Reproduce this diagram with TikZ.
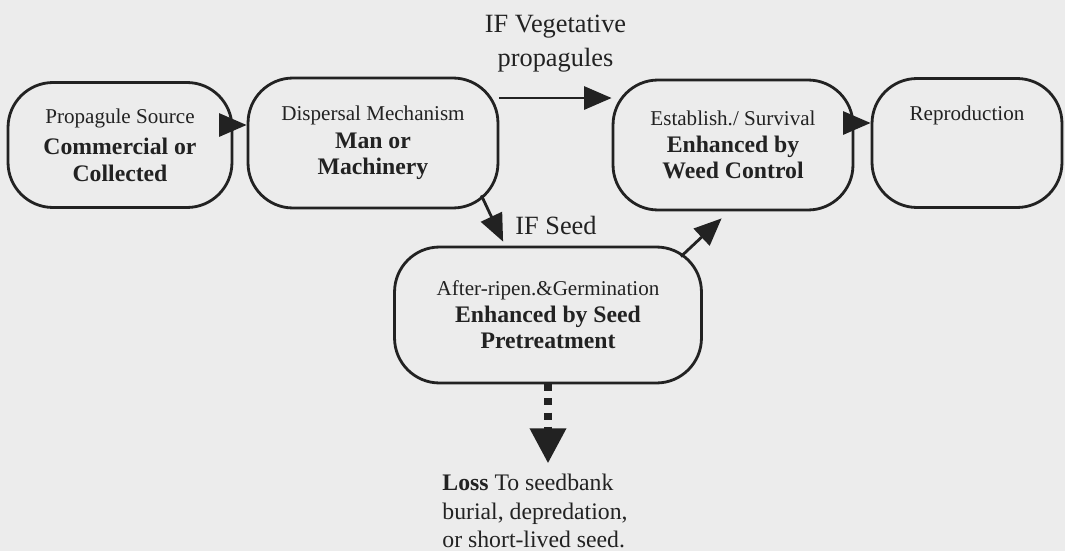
\documentclass[tikz,border=0pt]{standalone}
\usepackage{fontspec}
\setmainfont{Liberation Serif}
\usetikzlibrary{arrows.meta,calc}
\definecolor{paper}{RGB}{236,236,236}
\definecolor{ink}{RGB}{34,34,34}
\newcommand{\stagehead}[1]{{\fontsize{12}{14}\mdseries\selectfont #1}}

\begin{document}
\begin{tikzpicture}[x=0.02cm,y=-0.02cm,
  stage/.style={draw=ink, line width=1.6pt, rounded corners=0.9cm, align=center,
    text=ink, font=\fontsize{13.5}{15}\selectfont\bfseries, inner sep=0pt},
  flow/.style={draw=ink, line width=1.6pt, -{Triangle[length=0.55cm,width=0.46cm]}},
  lossflow/.style={draw=ink, line width=4pt, dash pattern=on 4pt off 4pt,
    -{Triangle[length=0.7cm,width=0.7cm]}},
  iflabel/.style={text=ink, font=\fontsize{15}{19}\selectfont, align=center}]
\fill[paper] (0,0) rectangle (1065,551);
\useasboundingbox (0,0) rectangle (1065,551);

% stages
\node[stage, minimum width=4.48cm, minimum height=2.5cm] (src) at (120,145)
  {\stagehead{Propagule Source}\\[3pt] Commercial or\\ Collected};
\node[stage, minimum width=5cm, minimum height=2.6cm] (disp) at (373,143)
  {\stagehead{Dispersal Mechanism}\\[1pt] Man or\\ Machinery};
\node[stage, minimum width=4.8cm, minimum height=2.6cm] (est) at (733,145)
  {\stagehead{Establish./ Survival}\\ Enhanced by\\ Weed Control};
\node[stage, minimum width=3.8cm, minimum height=2.58cm] (rep) at (967,143)
  {\stagehead{Reproduction}\\ \strut\\ \strut};
\node[stage, minimum width=6.14cm, minimum height=2.72cm] (germ) at (548,315)
  {\stagehead{After-ripen.\&Germination}\\ Enhanced by Seed\\ Pretreatment};
\node[text=ink, font=\fontsize{13.5}{16}\selectfont, align=left] (loss) at (535,511)
  {\textbf{Loss} To seedbank\\ burial, depredation,\\ or short-lived seed.};

% connectors
\draw[flow] ([yshift=0.4cm]src.east) -- ([yshift=0.4cm]src.east -| disp.west);
\draw[flow] ([yshift=0.9cm]disp.east) -- ([yshift=0.9cm]disp.east -| est.west)
  node[iflabel, midway, above=0.38cm] (veg) {IF Vegetative\\propagules};
\draw[flow] ([xshift=-0.36cm,yshift=0.28cm]disp.south east)
  -- ([xshift=2.2cm,yshift=0.08cm]germ.north west)
  node[iflabel, anchor=west, xshift=0.1cm, yshift=0.32cm] (seed) {IF Seed};
\draw[flow] ([xshift=-0.44cm,yshift=-0.22cm]germ.north east)
  -- ([xshift=2.2cm,yshift=-0.14cm]est.south west);
\draw[flow] ([yshift=0.44cm]est.east) -- ([yshift=0.44cm]est.east -| rep.west);
\draw[lossflow] (germ.south) -- ([yshift=0.1cm]loss.north -| germ.south);
\end{tikzpicture}
\end{document}
